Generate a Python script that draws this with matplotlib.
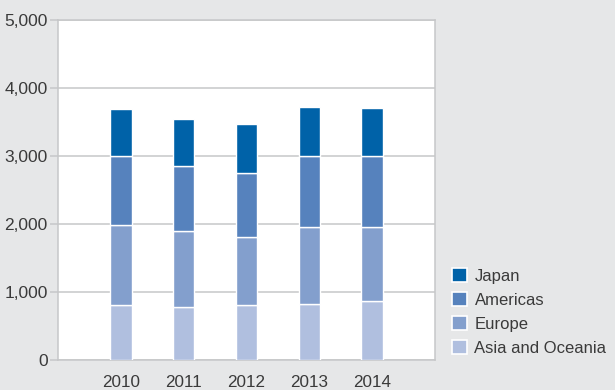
import matplotlib
matplotlib.use("Agg")
import matplotlib.pyplot as plt
from matplotlib.patches import Patch
import numpy as np

# Sales by region, stacked per fiscal year
years = ["2010", "2011", "2012", "2013", "2014"]
asia_oceania = [810, 785, 805, 825, 870]
europe = [1175, 1115, 1010, 1125, 1090]
americas = [1015, 955, 940, 1055, 1035]
japan = [690, 690, 710, 710, 715]

series = [
    ("Asia and Oceania", asia_oceania, "#b0bfdf"),
    ("Europe", europe, "#839fcd"),
    ("Americas", americas, "#5682bd"),
    ("Japan", japan, "#0062a8"),
]

BG = "#e6e7e8"
FRAME = "#c6c7c9"
TEXT = "#3a3a3a"

fig = plt.figure(figsize=(6.15, 3.9), dpi=100, facecolor=BG)
ax = fig.add_axes([58 / 615, 30 / 390, 377 / 615, 340 / 390])
ax.set_facecolor("white")

x = np.arange(len(years))
bottom = np.zeros(len(years))
for name, vals, color in series:
    ax.bar(x, vals, bottom=bottom, width=0.34, color=color,
           edgecolor="white", linewidth=1.0, zorder=3)
    bottom += np.array(vals)

ax.set_xlim(-1, 5)
ax.set_ylim(0, 5000)
ax.set_yticks(range(0, 5001, 1000))
ax.set_yticklabels(["{:,}".format(v) for v in range(0, 5001, 1000)],
                   family=["Liberation Sans Narrow", "Liberation Sans"],
                   fontsize=12.5, color=TEXT)
ax.set_xticks(x)
ax.set_xticklabels(years, family="Liberation Sans", fontsize=12.3, color=TEXT)
ax.tick_params(axis="x", length=0, pad=11)
ax.tick_params(axis="y", length=6, width=1.1, color=FRAME, pad=1.5)
ax.grid(axis="y", color=FRAME, linewidth=1.1, zorder=1)
for side in ax.spines.values():
    side.set_color(FRAME)
    side.set_linewidth(1.1)

handles = [Patch(facecolor=c, edgecolor="white", linewidth=1.2, label=n)
           for n, _, c in reversed(series)]
fig.legend(handles=handles, loc="upper left", bbox_to_anchor=(452 / 615, 1 - 268 / 390),
           frameon=False, borderpad=0, borderaxespad=0,
           prop={"family": "Liberation Sans", "size": 12},
           labelcolor=TEXT, handlelength=0.9, handleheight=0.9,
           handletextpad=0.45, labelspacing=0.5)

fig.savefig("out.png", dpi=100, facecolor=BG)
